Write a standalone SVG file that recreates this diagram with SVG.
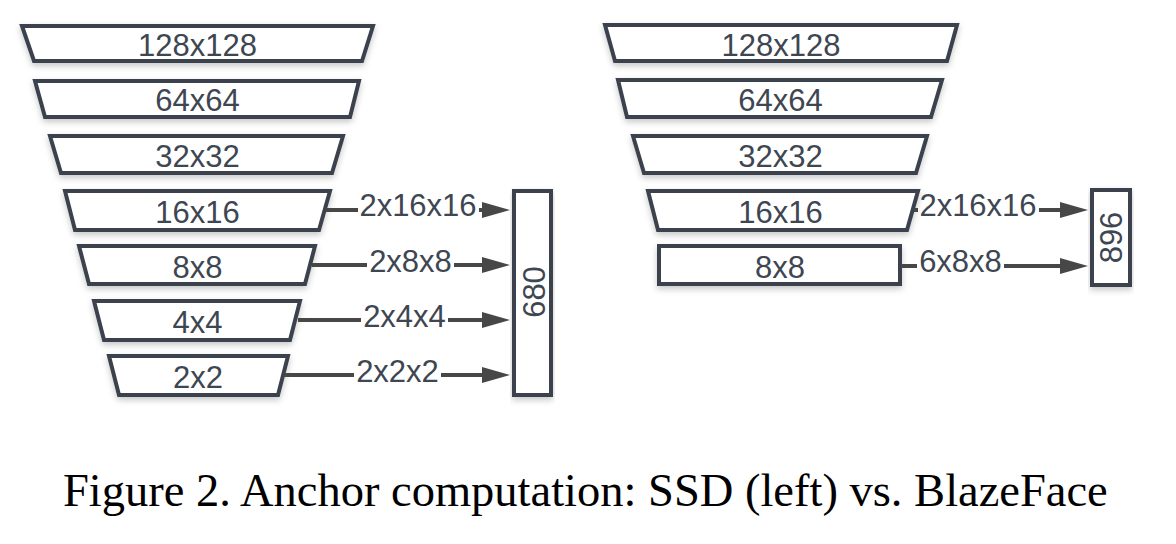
<svg xmlns="http://www.w3.org/2000/svg" width="1176" height="544" viewBox="0 0 1176 544">
<style>
.n{fill:#ffffff;stroke:#3a434e;stroke-width:4;stroke-linejoin:miter;filter:url(#sh)}
.t{font-family:"Liberation Sans",Arial,sans-serif;font-size:31px;fill:#3d4651;text-anchor:middle}
.c{fill:none;stroke:#474747;stroke-width:4;marker-end:url(#ah)}
.cap{font-family:"Liberation Serif","Times New Roman",serif;font-size:46.5px;fill:#000}
</style>
<defs>
<filter id="sh" x="-10%" y="-20%" width="120%" height="160%">
<feDropShadow dx="0" dy="3" stdDeviation="3" flood-color="#000" flood-opacity="0.22"/>
</filter>
<marker id="ah" markerUnits="userSpaceOnUse" markerWidth="28" markerHeight="16" refX="8" refY="8" orient="auto">
<path d="M0,0 L28,8 L0,16 z" fill="#474747"/>
</marker>
</defs>
<rect width="1176" height="544" fill="#ffffff"/>
<g id="ssd">
<g id="l128"><path class="n" d="M22,26 H373 L362,61 H34 Z"/><text class="t" x="197.5" y="56">128x128</text></g>
<g id="l64"><path class="n" d="M35,81 H359 L350,117 H45 Z"/><text class="t" x="197.5" y="111">64x64</text></g>
<g id="l32"><path class="n" d="M50,136 H343 L332,173 H61 Z"/><text class="t" x="197.5" y="167">32x32</text></g>
<g id="l16"><path class="n" d="M65,191 H330 L319,230 H75 Z"/><text class="t" x="197.5" y="223">16x16</text></g>
<g id="l8"><path class="n" d="M79,246 H315 L305,284 H89 Z"/><text class="t" x="197.5" y="278">8x8</text></g>
<g id="l4"><path class="n" d="M94,301 H300 L290,340 H104 Z"/><text class="t" x="197.5" y="333">4x4</text></g>
<g id="l2"><path class="n" d="M109,356 H288 L278,395 H119 Z"/><text class="t" x="198" y="388">2x2</text></g>
<g id="l680"><rect class="n" x="514" y="191" width="37" height="204"/><text class="t" transform="translate(545,292) rotate(-90)">680</text></g>
</g>
<g id="blaze">
<g id="r128"><path class="n" d="M605,25 H957 L947,61 H615 Z"/><text class="t" x="781" y="56">128x128</text></g>
<g id="r64"><path class="n" d="M618,80 H942 L931,117 H627 Z"/><text class="t" x="780.5" y="111">64x64</text></g>
<g id="r32"><path class="n" d="M633,136 H927 L916,173 H644 Z"/><text class="t" x="780.5" y="167">32x32</text></g>
<g id="r16"><path class="n" d="M648,191 H918 L907,230 H658 Z"/><text class="t" x="780.5" y="223">16x16</text></g>
<g id="r8"><rect class="n" x="659" y="246" width="241" height="38"/><text class="t" x="780" y="278">8x8</text></g>
<g id="r896"><rect class="n" x="1092" y="190" width="38" height="95"/><text class="t" transform="translate(1122,237.5) rotate(-90)">896</text></g>
</g>
<g id="connectors">
<path class="c" d="M326,210 H358 M479,210 H490"/>
<text class="t" x="418" y="216">2x16x16</text>
<path class="c" d="M312,265 H367 M454,265 H490"/>
<text class="t" x="410.5" y="272">2x8x8</text>
<path class="c" d="M298,320 H361 M448,320 H490"/>
<text class="t" x="404.5" y="327">2x4x4</text>
<path class="c" d="M284,375 H354 M441,375 H490"/>
<text class="t" x="397.5" y="382">2x2x2</text>
<path class="c" d="M914,210 H918 M1039,210 H1068"/>
<text class="t" x="978" y="216">2x16x16</text>
<path class="c" d="M901,266 H917 M1004,266 H1068"/>
<text class="t" x="960.5" y="272">6x8x8</text>
</g>
<text class="cap" x="63" y="506">Figure 2. Anchor computation: SSD (left) vs. BlazeFace</text>
</svg>
